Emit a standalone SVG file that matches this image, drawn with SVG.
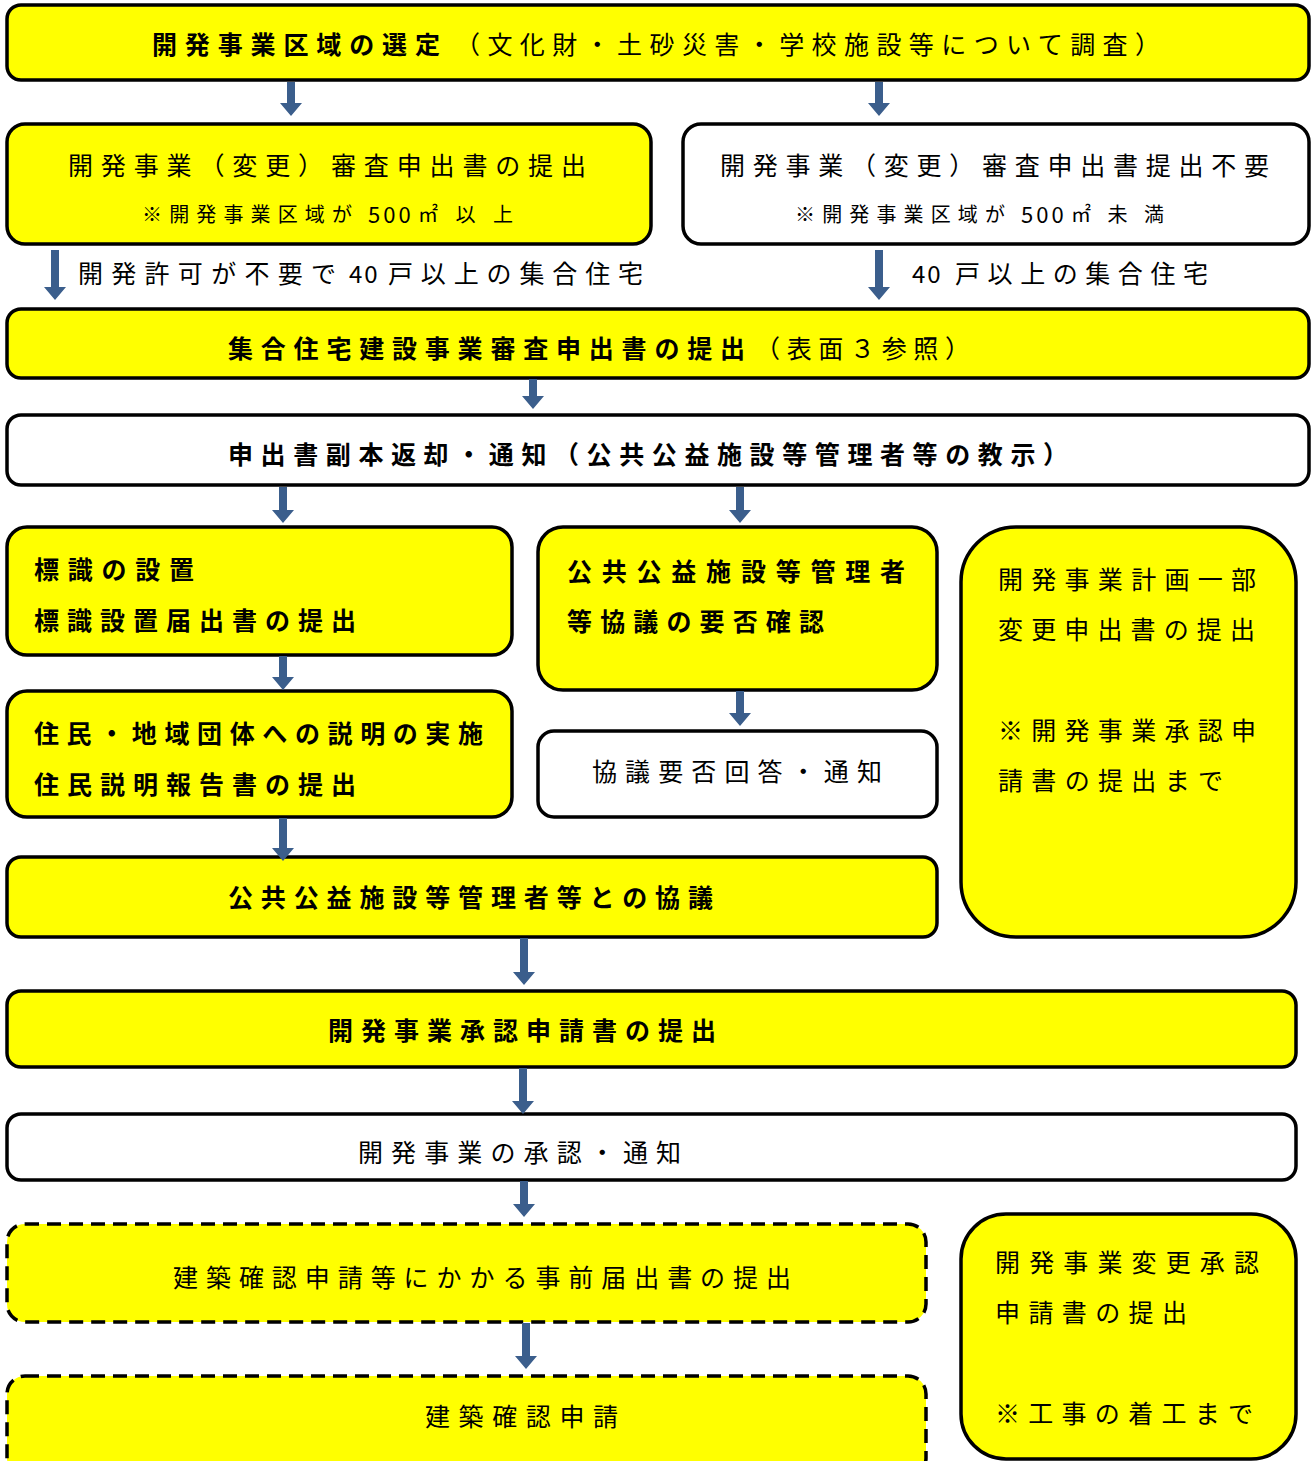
<svg xmlns="http://www.w3.org/2000/svg" width="1313" height="1461" viewBox="0 0 1313 1461">
<style>
.y{fill:#ffff00;stroke:#000;stroke-width:3.5}
.w{fill:#fff;stroke:#000;stroke-width:3.5}
.d{stroke-dasharray:14 8}
text{font-family:"Noto Sans CJK JP","Noto Sans CJK SC",sans-serif;fill:#000;dominant-baseline:central}
.r{font-size:25px;font-weight:400}
.b{font-size:25px;font-weight:700}
.s{font-size:20px;font-weight:400}
.num{font-size:24px;font-weight:400;letter-spacing:2px}
.snum{font-size:22px;font-weight:400;letter-spacing:3px}
.arr{fill:#3b5e8c;stroke:none}
</style>
<rect width="1313" height="1461" fill="#fff"/>
<g id="n1"><rect class="y" x="7" y="5" width="1302" height="75" rx="14"/>
<text class="b" x="152" y="43" textLength="288" lengthAdjust="spacing">開発事業区域の選定</text>
<text class="r" x="455" y="43" textLength="705" lengthAdjust="spacing">（文化財・土砂災害・学校施設等について調査）</text></g>
<g id="n2a"><rect class="y" x="7" y="124" width="644" height="120" rx="18"/>
<text class="r" x="68" y="164" textLength="518" lengthAdjust="spacing">開発事業（変更）審査申出書の提出</text>
<text class="s" x="142" y="213" textLength="210" lengthAdjust="spacing">※開発事業区域が</text>
<text class="snum" x="368" y="213">500</text>
<text class="s" x="418" y="213" textLength="95" lengthAdjust="spacing">㎡以上</text></g>
<g id="n2b"><rect class="w" x="683" y="124" width="626" height="120" rx="18"/>
<text class="r" x="720" y="164" textLength="549" lengthAdjust="spacing">開発事業（変更）審査申出書提出不要</text>
<text class="s" x="795" y="213" textLength="210" lengthAdjust="spacing">※開発事業区域が</text>
<text class="snum" x="1021" y="213">500</text>
<text class="s" x="1071" y="213" textLength="93" lengthAdjust="spacing">㎡未満</text></g>
<g id="lbl1"><text class="r" x="78" y="272" textLength="258" lengthAdjust="spacing">開発許可が不要で</text>
<text class="num" x="349" y="272">40</text>
<text class="r" x="388" y="272" textLength="255" lengthAdjust="spacing">戸以上の集合住宅</text></g>
<g id="lbl2"><text class="num" x="912" y="272">40</text>
<text class="r" x="955" y="272" textLength="253" lengthAdjust="spacing">戸以上の集合住宅</text></g>
<g id="n3"><rect class="y" x="7" y="309" width="1302" height="69" rx="14"/>
<text class="b" x="228" y="347" textLength="517" lengthAdjust="spacing">集合住宅建設事業審査申出書の提出</text>
<text class="r" x="755" y="347" textLength="215" lengthAdjust="spacing">（表面３参照）</text></g>
<g id="n4"><rect class="w" x="7" y="415" width="1302" height="70" rx="14"/>
<text class="b" x="228" y="453" textLength="840" lengthAdjust="spacing">申出書副本返却・通知（公共公益施設等管理者等の教示）</text></g>
<g id="n5a"><rect class="y" x="7" y="527" width="505" height="128" rx="20"/>
<text class="b" x="34" y="568" textLength="160" lengthAdjust="spacing">標識の設置</text>
<text class="b" x="34" y="619" textLength="322" lengthAdjust="spacing">標識設置届出書の提出</text></g>
<g id="n5b"><rect class="y" x="538" y="527" width="399" height="163" rx="25"/>
<text class="b" x="567" y="570" textLength="338" lengthAdjust="spacing">公共公益施設等管理者</text>
<text class="b" x="567" y="620" textLength="257" lengthAdjust="spacing">等協議の要否確認</text></g>
<g id="n5c"><rect class="y" x="961" y="527" width="335" height="410" rx="55"/>
<text class="r" x="998" y="578" textLength="258" lengthAdjust="spacing">開発事業計画一部</text>
<text class="r" x="998" y="628" textLength="257" lengthAdjust="spacing">変更申出書の提出</text>
<text class="r" x="998" y="729" textLength="258" lengthAdjust="spacing">※開発事業承認申</text>
<text class="r" x="998" y="779" textLength="225" lengthAdjust="spacing">請書の提出まで</text></g>
<g id="n6a"><rect class="y" x="7" y="691" width="505" height="126" rx="20"/>
<text class="b" x="34" y="732" textLength="449" lengthAdjust="spacing">住民・地域団体への説明の実施</text>
<text class="b" x="34" y="783" textLength="322" lengthAdjust="spacing">住民説明報告書の提出</text></g>
<g id="n6b"><rect class="w" x="538" y="731" width="399" height="86" rx="16"/>
<text class="r" x="592" y="770" textLength="290" lengthAdjust="spacing">協議要否回答・通知</text></g>
<g id="n7"><rect class="y" x="7" y="857" width="930" height="80" rx="14"/>
<text class="b" x="228" y="896" textLength="485" lengthAdjust="spacing">公共公益施設等管理者等との協議</text></g>
<g id="n8"><rect class="y" x="7" y="991" width="1289" height="76" rx="14"/>
<text class="b" x="328" y="1029" textLength="388" lengthAdjust="spacing">開発事業承認申請書の提出</text></g>
<g id="n9"><rect class="w" x="7" y="1114" width="1289" height="66" rx="14"/>
<text class="r" x="358" y="1151" textLength="323" lengthAdjust="spacing">開発事業の承認・通知</text></g>
<g id="n10"><rect class="y d" x="7" y="1224" width="919" height="98" rx="18"/>
<text class="r" x="173" y="1276" textLength="618" lengthAdjust="spacing">建築確認申請等にかかる事前届出書の提出</text></g>
<g id="n11"><rect class="y d" x="7" y="1376" width="919" height="100" rx="18"/>
<text class="r" x="425" y="1415" textLength="193" lengthAdjust="spacing">建築確認申請</text></g>
<g id="n12"><rect class="y" x="961" y="1214" width="335" height="245" rx="45"/>
<text class="r" x="995" y="1261" textLength="264" lengthAdjust="spacing">開発事業変更承認</text>
<text class="r" x="995" y="1311" textLength="192" lengthAdjust="spacing">申請書の提出</text>
<text class="r" x="995" y="1412" textLength="258" lengthAdjust="spacing">※工事の着工まで</text></g>
<g id="connectors">
<path class="arr" d="M287 82 H295 V103 H302 L291 116 L280 103 H287 Z"/>
<path class="arr" d="M875 82 H883 V103 H890 L879 116 L868 103 H875 Z"/>
<path class="arr" d="M51 250 H59 V287 H66 L55 300 L44 287 H51 Z"/>
<path class="arr" d="M875 250 H883 V287 H890 L879 300 L868 287 H875 Z"/>
<path class="arr" d="M529 379 H537 V396 H544 L533 409 L522 396 H529 Z"/>
<path class="arr" d="M279 487 H287 V510 H294 L283 523 L272 510 H279 Z"/>
<path class="arr" d="M736 487 H744 V510 H751 L740 523 L729 510 H736 Z"/>
<path class="arr" d="M279 656 H287 V677 H294 L283 690 L272 677 H279 Z"/>
<path class="arr" d="M736 691 H744 V713 H751 L740 726 L729 713 H736 Z"/>
<path class="arr" d="M279 818 H287 V848 H294 L283 861 L272 848 H279 Z"/>
<path class="arr" d="M520 938 H528 V972 H535 L524 985 L513 972 H520 Z"/>
<path class="arr" d="M519 1068 H527 V1101 H534 L523 1114 L512 1101 H519 Z"/>
<path class="arr" d="M520 1181 H528 V1204 H535 L524 1217 L513 1204 H520 Z"/>
<path class="arr" d="M522 1323 H530 V1356 H537 L526 1369 L515 1356 H522 Z"/>
</g>
</svg>
